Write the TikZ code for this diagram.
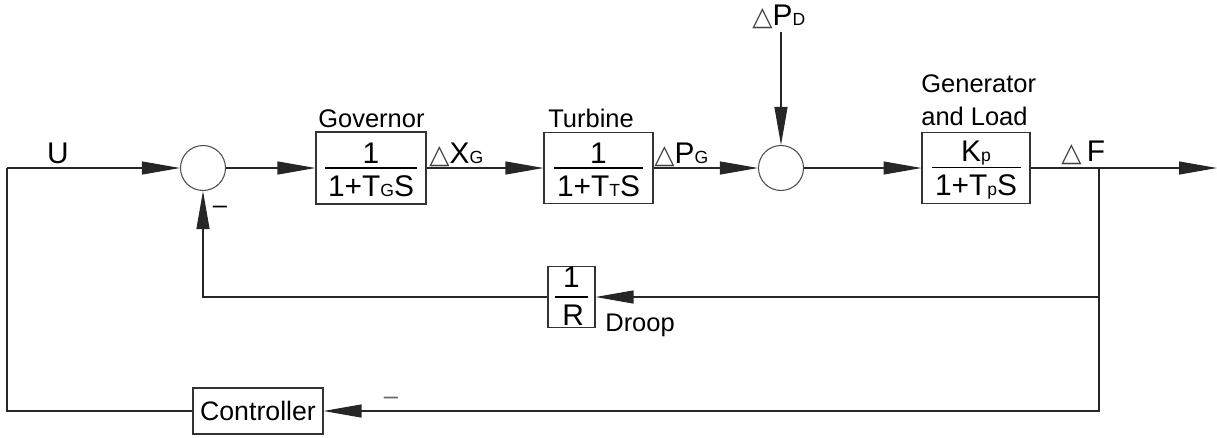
\documentclass[tikz,border=0pt]{standalone}
\usepackage{fontspec}
\setmainfont{Liberation Sans}
\newfontfamily\trifont{DejaVu Sans}
\usetikzlibrary{arrows.meta}
\setlength{\arrayrulewidth}{0.6pt}
% delta sign and small indices
\newcommand{\tri}{{\trifont\fontsize{15}{15}\selectfont\color{black!75}△}}
\newcommand{\lowtext}[1]{{\fontsize{10}{10}\selectfont #1}}
% numerator over a rule over denominator
\newcommand{\blockfrac}[3][2pt]{{\renewcommand{\arraystretch}{0}%
	\begin{tabular}{@{\hspace{2pt}}c@{\hspace{2pt}}}\rule[-#1]{0pt}{17pt}#2\\\hline\rule[-1pt]{0pt}{17pt}#3\end{tabular}}}

\begin{document}
\begin{tikzpicture}[
	x=0.02cm, y=-0.02cm, % one unit per pixel, counted from the top
	% Style for the transfer function blocks
	block node/.style={
		draw=black!80,
		line width=0.6pt,
		inner sep=0pt,
		font=\fontsize{17}{20}\selectfont
	},
	% Style for the summing junctions
	sum node/.style={
		circle,
		draw=black!70,
		line width=0.6pt,
		minimum size=0.9cm,
		inner sep=0pt
	},
	% Style for the signal lines with arrow
	signal/.style={
		draw=black!85,
		line width=0.6pt,
		-{Triangle[length=0.76cm,width=0.26cm]}
	},
	% Style for a plain line
	wire/.style={
		draw=black!85,
		line width=0.6pt
	},
	% Text styles
	sig text/.style={font=\fontsize{17}{20}\selectfont, inner sep=0pt},
	name text/.style={font=\fontsize{14.5}{17}\selectfont, inner sep=0pt}
	]
	
	\useasboundingbox (0,0) rectangle (1217,437);
	
	% 1. Summing junctions
	\node[sum node] (sum1) at (203,168) {};
	\node[sum node] (sum2) at (781,168) {};
	
	% 2. Forward path blocks
	\node[block node, minimum width=2.2cm, minimum height=1.44cm] (gov) at (371,168) {\blockfrac{1}{1+T\lowtext{G}S}};
	\node[block node, minimum width=2.18cm, minimum height=1.42cm] (turb) at (598.5,168) {\blockfrac{1}{1+T\lowtext{T}S}};
	\node[block node, minimum width=2.16cm, minimum height=1.42cm] (gen) at (976,168) {\blockfrac[3pt]{K\lowtext{p}}{1+T\lowtext{p}S}};
	
	% 3. Feedback blocks
	\node[block node, minimum width=0.94cm, minimum height=1.22cm] (droop) at (571.5,297) {\blockfrac[5pt]{1}{\hspace{2pt}R\hspace{2pt}}};
	\node[block node, minimum width=2.6cm, minimum height=0.92cm, font=\fontsize{15.2}{18}\selectfont] (ctrl) at (258,411) {Controller};
	
	% Free ends and branch point
	\coordinate (ltop) at (7,168);
	\coordinate (pdin) at (781,32);
	\coordinate (fb) at (1099,168);
	\coordinate (out) at (1217,168);
	
	% 4. Signal names
	\node[sig text, anchor=base] (u) at (58,163) {U};
	\node[sig text, anchor=base west] (xg) at (429,163) {\tri X\lowtext{G}};
	\node[sig text, anchor=base west] (pg) at (654,163) {\tri P\lowtext{G}};
	\node[sig text, anchor=base west] (pd) at (752,25) {\tri P\lowtext{D}};
	\node[sig text, anchor=base west] (df) at (1061,161) {\tri\hspace{3pt}F};
	
	% Block names
	\node[name text, anchor=base west] (govname) at (318,127) {Governor};
	\node[name text, anchor=base west] (turbname) at (548,127) {Turbine};
	\node[name text, anchor=base west] (genname) at (921,92) {Generator};
	\node[name text, anchor=base west] (loadname) at (921,125) {and Load};
	\node[name text, anchor=base west] (droopname) at (605,331) {Droop};
	
	% Minus signs
	\node[name text] (minus1) at (220,210) {–};
	\node[name text, text=black!60] (minus2) at (391,401) {–};
	
	% 5. Connections
	\draw[signal] (ltop) -- (sum1);
	\draw[signal] (sum1) -- (gov);
	\draw[signal] (gov) -- (turb);
	\draw[signal] (turb) -- (sum2);
	\draw[signal] (pdin) -- (sum2);
	\draw[signal] (sum2) -- (gen);
	\draw[signal] (gen) -- (out);
	
	% Feedback loops
	\draw[signal] (fb) |- (droop);
	\draw[signal] (fb) |- (ctrl);
	\draw[signal] (droop) -| (sum1);
	\draw[wire] (ctrl) -| (ltop);
	
\end{tikzpicture}
\end{document}
